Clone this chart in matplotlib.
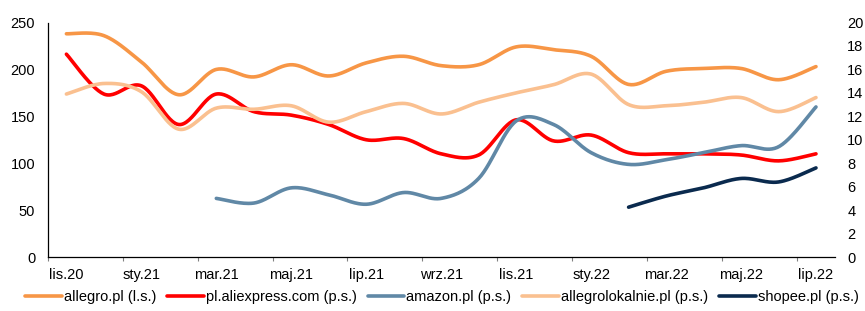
#!/usr/bin/env python3

import matplotlib
matplotlib.use('Agg')
import matplotlib.pyplot as plt
import numpy as np

plt.rcParams['font.family'] = ['Liberation Sans', 'DejaVu Sans']

months = ['lis.20', 'gru.20', 'sty.21', 'lut.21', 'mar.21', 'kwi.21', 'maj.21',
          'cze.21', 'lip.21', 'sie.21', 'wrz.21', 'paź.21', 'lis.21', 'gru.21',
          'sty.22', 'lut.22', 'mar.22', 'kwi.22', 'maj.22', 'cze.22', 'lip.22']

# left scale
allegro = [238, 236, 208, 173, 200, 192, 205, 193, 207, 214, 204, 205, 224,
           221, 214, 184, 198, 201, 201, 189, 203]
# right scale
aliexpress = [17.3, 13.9, 14.6, 11.3, 13.9, 12.4, 12.1, 11.3, 10.0, 10.1, 8.8,
              8.7, 11.7, 9.9, 10.4, 8.9, 8.8, 8.8, 8.7, 8.2, 8.8]
amazon = [None, None, None, None, 5.0, 4.6, 5.9, 5.3, 4.5, 5.5, 5.0, 6.7,
          11.6, 11.3, 8.9, 7.9, 8.3, 8.9, 9.5, 9.4, 12.8]
lokalnie = [13.9, 14.8, 14.1, 10.9, 12.7, 12.6, 12.9, 11.5, 12.4, 13.1, 12.2,
            13.2, 14.0, 14.7, 15.6, 13.0, 12.9, 13.2, 13.6, 12.4, 13.6]
shopee = [None] * 15 + [4.25, 5.2, 5.9, 6.7, 6.4, 7.6]

labels = ['allegro.pl (l.s.)', 'pl.aliexpress.com (p.s.)', 'amazon.pl (p.s.)',
          'allegrolokalnie.pl (p.s.)', 'shopee.pl (p.s.)']
colors = ['#F79646', '#FF0000', '#6088A6', '#FAC090', '#0A2A4E']


def smooth(vals, n=30):
    # Excel-like smoothed line (Catmull-Rom as cubic Bezier)
    pts = [(i, v) for i, v in enumerate(vals) if v is not None]
    x = np.array([p[0] for p in pts], float)
    y = np.array([p[1] for p in pts], float)
    P = np.column_stack([x, y])
    out = [P[0]]
    t = np.linspace(0, 1, n)[1:, None]
    for k in range(len(P) - 1):
        p0 = P[k - 1] if k > 0 else P[k]
        p1, p2 = P[k], P[k + 1]
        p3 = P[k + 2] if k + 2 < len(P) else P[k + 1]
        c1 = p1 + (p2 - p0) / 6
        c2 = p2 - (p3 - p1) / 6
        seg = ((1 - t) ** 3 * p1 + 3 * (1 - t) ** 2 * t * c1
               + 3 * (1 - t) * t ** 2 * c2 + t ** 3 * p2)
        out.extend(seg)
    out = np.array(out)
    return out[:, 0], out[:, 1]


fig = plt.figure(figsize=(8.65, 3.11), dpi=100)
ax = fig.add_axes([0.0551, 0.1736, 0.9099, 0.754])
ax2 = ax.twinx()

lw = 2.6
fs = 10.5
handles = []
h, = ax.plot(*smooth(allegro), color=colors[0], lw=lw, solid_capstyle='round')
handles.append(h)
for vals, c in zip([aliexpress, amazon, lokalnie, shopee], colors[1:]):
    h, = ax2.plot(*smooth(vals), color=c, lw=lw, solid_capstyle='round')
    handles.append(h)

# draw order similar to reference
ax.set_zorder(ax2.get_zorder() + 1)
ax.patch.set_visible(False)

ax.set_xlim(-0.5, len(months) - 0.5)
ax.set_ylim(0, 250)
ax.set_yticks(range(0, 251, 50))
ax2.set_ylim(0, 20)
ax2.set_yticks(range(0, 21, 2))

ax.set_xticks(np.arange(-0.5, len(months) - 0.5, 2))
ax.set_xticklabels([])
ax.set_xticks(np.arange(0, len(months), 2), minor=True)
ax.set_xticklabels(months[::2], minor=True)
ax.tick_params(axis='x', which='major', length=3, width=0.8, color='#808080')
ax.tick_params(axis='x', which='minor', length=0, pad=8, labelsize=fs)
ax.tick_params(axis='y', length=0, pad=9, labelsize=fs)
ax2.tick_params(axis='y', length=0, pad=9, labelsize=fs)

for s in ['top', 'right']:
    ax.spines[s].set_visible(False)
for s in ['top', 'right', 'left', 'bottom']:
    ax2.spines[s].set_visible(False)
ax.spines['left'].set_linewidth(0.9)
ax.spines['bottom'].set_linewidth(0.9)

fig.legend(handles, labels, loc='lower center', bbox_to_anchor=(0.511, -0.02),
           ncol=5, frameon=False, fontsize=fs, handlelength=2.5,
           handletextpad=0.15, columnspacing=0.75)

fig.savefig('out.png', dpi=100)
